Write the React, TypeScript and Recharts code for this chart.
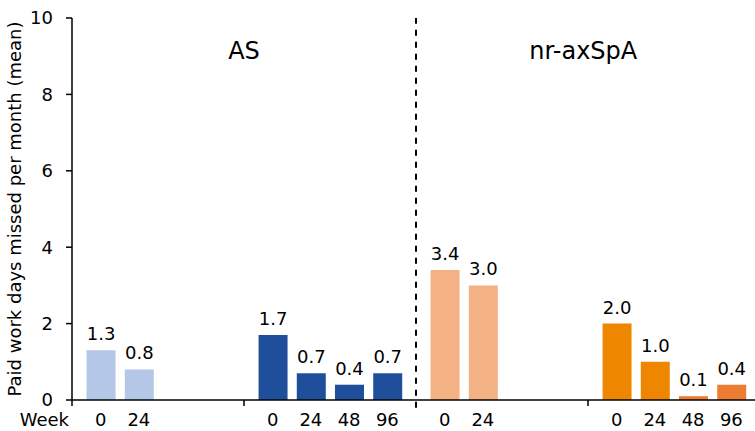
import { Bar, BarChart, Cell, LabelList, ReferenceArea, ReferenceLine, XAxis, YAxis } from "recharts";

const weeksShort = ["0", "24"];
const weeksLong = ["0", "24", "48", "96"];
const asShort = [1.3, 0.8];
const asLong = [1.7, 0.7, 0.4, 0.7];
const nrShort = [3.4, 3.0];
const nrLong = [2.0, 1.0, 0.1, 0.4];
const yTicks = [0, 2, 4, 6, 8, 10];
const panelTitles = ["AS", "nr-axSpA"];

const groups = [
  { values: asShort, weeks: weeksShort, colors: ["#B4C7E7", "#B4C7E7"] },
  { values: asLong, weeks: weeksLong, colors: ["#1F4E9B", "#1F4E9B", "#1F4E9B", "#1F4E9B"] },
  { values: nrShort, weeks: weeksShort, colors: ["#F4B183", "#F4B183"] },
  { values: nrLong, weeks: weeksLong, colors: ["#EE8600", "#EE8600", "#ED7D31", "#ED7D31"] },
];

// each group takes 9 half-slots, bars sit on every second one
const data = groups.flatMap((g, s) =>
  g.values.map((v, k) => ({ pos: s * 9 + k * 2 + 1.5, value: v, week: g.weeks[k], color: g.colors[k] }))
);
const groupEdges = [0, 9, 27];

const font = "'DejaVu Sans', Verdana, sans-serif";

function WeekTick(props: any) {
  const { x, y, payload } = props;
  const d = data.find((p) => p.pos === payload.value);
  if (!d) {
    return (
      <g>
        <line x1={x} x2={x} y1={y - 13} y2={y - 7} stroke="#000" strokeWidth={1.5} />
        {payload.value === 0 && (
          <text x={x - 3} y={y} dy="0.71em" textAnchor="end" fontSize={18} fill="#000" fontFamily={font}>
            Week
          </text>
        )}
      </g>
    );
  }
  return (
    <text x={x} y={y} dy="0.71em" textAnchor="middle" fontSize={18} fill="#000" fontFamily={font}>
      {d.week}
    </text>
  );
}

export default function App() {
  return (
    <div style={{ position: "absolute", left: 0, top: 0 }}>
      <BarChart
        width={755}
        height={431}
        data={data}
        margin={{ top: 18, right: -5, bottom: 0, left: 0 }}
        style={{ fontFamily: font }}
      >
        <XAxis
          type="number"
          dataKey="pos"
          domain={[0, 36]}
          ticks={[...groupEdges, ...data.map((d) => d.pos)]}
          interval={0}
          tick={<WeekTick />}
          tickLine={false}
          tickSize={0}
          tickMargin={13}
          height={31}
          axisLine={{ stroke: "#000", strokeWidth: 1.5 }}
        />
        <YAxis
          type="number"
          domain={[0, 10]}
          ticks={yTicks}
          interval={0}
          width={72}
          tickSize={6}
          tickMargin={13}
          axisLine={{ stroke: "#000", strokeWidth: 1.5 }}
          tickLine={{ stroke: "#000", strokeWidth: 1.5 }}
          tick={{ fontSize: 18, fill: "#000" }}
          label={{
            value: "Paid work days missed per month (mean)",
            angle: -90,
            position: "insideLeft",
            offset: 15,
            fontSize: 18,
            fill: "#000",
            style: { textAnchor: "middle" },
          }}
        />
        <ReferenceArea
          x1={0}
          x2={18}
          y1={8.75}
          y2={9.55}
          fill="none"
          stroke="none"
          label={{ value: panelTitles[0], position: "center", fontSize: 24, fill: "#000" }}
        />
        <ReferenceArea
          x1={18}
          x2={35.5}
          y1={8.75}
          y2={9.55}
          fill="none"
          stroke="none"
          label={{ value: panelTitles[1], position: "center", fontSize: 24, fill: "#000" }}
        />
        <ReferenceLine
          segment={[
            { x: 18, y: -0.2 },
            { x: 18, y: 10 },
          ]}
          stroke="#000"
          strokeWidth={2}
          strokeDasharray="6 6"
          ifOverflow="visible"
        />
        <Bar dataKey="value" barSize={29} isAnimationActive={false}>
          {data.map((d) => (
            <Cell key={d.pos} fill={d.color} />
          ))}
          <LabelList
            dataKey="value"
            position="top"
            offset={10}
            fontSize={18}
            fill="#000"
            formatter={(v: any) => Number(v).toFixed(1)}
          />
        </Bar>
      </BarChart>
    </div>
  );
}
